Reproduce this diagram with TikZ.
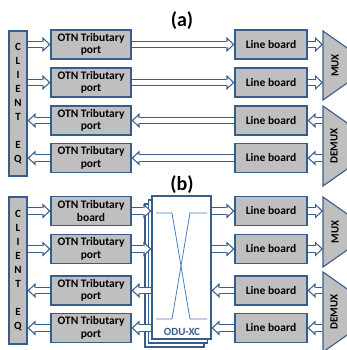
\documentclass[tikz,border=0pt]{standalone}
\usepackage{fontspec}
\setmainfont{Carlito}
\usetikzlibrary{arrows.meta,positioning,calc}
\definecolor{edgeblue}{RGB}{56,93,138}
\definecolor{boxgray}{RGB}{191,191,191}
\definecolor{xcblue}{RGB}{74,126,187}

\begin{document}
\begin{tikzpicture}[x=1pt,y=-1pt,
  cardbox/.style={draw=edgeblue, line width=1.1pt, fill=boxgray, inner sep=0pt, align=center, font=\fontsize{11.5}{12.5}\selectfont\bfseries},
  otnbox/.style={cardbox, minimum width=80pt, minimum height=29pt},
  linebox/.style={cardbox, minimum width=72pt, minimum height=29pt},
  clientbar/.style={cardbox, minimum width=18pt, font=\fontsize{11}{13.9}\selectfont\bfseries},
  dblarrow/.style={draw=edgeblue, line width=7.8pt, shorten <=0.55pt,
    -{Triangle[length=8pt,width=15pt,line width=0pt]},
    postaction={draw=white, line width=5.4pt, shorten <=0.55pt, shorten >=1.76pt,
      -{Triangle[length=5pt,width=9.4pt,line width=0pt]}}},
  muxshape/.style={draw=edgeblue, line width=1.1pt, fill=boxgray},
  muxtext/.style={rotate=90, font=\fontsize{11}{12}\selectfont\bfseries},
  panellabel/.style={font=\fontsize{20}{20}\selectfont\bfseries}]
	\useasboundingbox (0,0) rectangle (347,350);
	\clip (0,0) rectangle (347,350);

	% Panel labels
	\node[panellabel] (labA) at (182,21) {(a)};
	\node[panellabel] (labB) at (182,185) {(b)};

	% ---------- (a) ----------
	% Client equipment
	\node[clientbar, minimum height=145pt] (clientA) at (18,103.5) {C\\L\\I\\E\\N\\T\\ \\E\\Q};

	% Tributary ports and line boards
	\node[otnbox] (otnA1) at (91,44.5) {OTN Tributary\\port};
	\node[otnbox] (otnA2) at (91,82.5) {OTN Tributary\\port};
	\node[otnbox] (otnA3) at (91,120.5) {OTN Tributary\\port};
	\node[otnbox] (otnA4) at (91,158) {OTN Tributary\\port};
	\node[linebox] (lineA1) at (271,44.5) {Line board};
	\node[linebox] (lineA2) at (271,82.5) {Line board};
	\node[linebox] (lineA3) at (271,120.5) {Line board};
	\node[linebox] (lineA4) at (271,158) {Line board};

	% MUX / DEMUX
	\draw[muxshape] (323,31) -- (360,57) -- (360,74) -- (323,100) -- cycle;
	\coordinate (muxA) at (323,65.5);
	\node[muxtext] (muxAname) at (335,65.5) {MUX};
	\draw[muxshape] (323,106) -- (360,132) -- (360,160) -- (323,186) -- cycle;
	\coordinate (demuxA) at (323,146);
	\node[muxtext] (demuxAname) at (334,146) {DEMUX};

	% Connections
	\draw[dblarrow] (clientA.east |- otnA1) -- (otnA1);
	\draw[dblarrow] (clientA.east |- otnA2) -- (otnA2);
	\draw[dblarrow] (otnA1) -- (lineA1);
	\draw[dblarrow] (otnA2) -- (lineA2);
	\draw[dblarrow] (lineA1) -- (lineA1 -| muxA);
	\draw[dblarrow] (lineA2) -- (lineA2 -| muxA);
	\draw[dblarrow] (lineA3 -| demuxA) -- (lineA3);
	\draw[dblarrow] (lineA4 -| demuxA) -- (lineA4);
	\draw[dblarrow] (lineA3) -- (otnA3);
	\draw[dblarrow] (lineA4) -- (otnA4);
	\draw[dblarrow] (otnA3) -- (clientA.east |- otnA3);
	\draw[dblarrow] (otnA4) -- (clientA.east |- otnA4);

	% ---------- (b) ----------
	% Client equipment
	\node[clientbar, minimum height=147pt] (clientB) at (18,270.5) {C\\L\\I\\E\\N\\T\\ \\E\\Q};

	% Tributary boards and line boards
	\node[otnbox] (otnB1) at (91,211) {OTN Tributary\\board};
	\node[otnbox] (otnB2) at (91,249) {OTN Tributary\\port};
	\node[otnbox] (otnB3) at (91,290.5) {OTN Tributary\\port};
	\node[otnbox] (otnB4) at (91,328) {OTN Tributary\\port};
	\node[linebox] (lineB1) at (271,211) {Line board};
	\node[linebox] (lineB2) at (271,249) {Line board};
	\node[linebox] (lineB3) at (271,290.5) {Line board};
	\node[linebox] (lineB4) at (271,328) {Line board};

	% ODU cross-connect (stacked boards)
	\draw[edgeblue, line width=1.1pt, fill=white] (145,204) rectangle (204,347);
	\draw[edgeblue, line width=1.1pt, fill=white] (148.5,200) rectangle (207.5,343);
	\node[draw=edgeblue, line width=1.1pt, fill=white, minimum width=59pt, minimum height=143pt, inner sep=0pt] (odu) at (181.5,267.5) {};
	\draw[xcblue, line width=0.8pt] (156,213) -- (172,213) -- (190,319) -- (207,319);
	\draw[xcblue, line width=0.8pt] (207,213) -- (190,213) -- (172,319) -- (156,319);
	\node[font=\fontsize{11}{12}\selectfont\bfseries, text=edgeblue] (oduname) at (182,332) {ODU-XC};

	% MUX / DEMUX
	\draw[muxshape] (323,197) -- (360,223) -- (360,241) -- (323,267) -- cycle;
	\coordinate (muxB) at (323,232);
	\node[muxtext] (muxBname) at (335,232) {MUX};
	\draw[muxshape] (323,272) -- (360,298) -- (360,326) -- (323,352) -- cycle;
	\coordinate (demuxB) at (323,312);
	\node[muxtext] (demuxBname) at (334,312) {DEMUX};

	% Connections
	\draw[dblarrow] (clientB.east |- otnB1) -- (otnB1);
	\draw[dblarrow] (clientB.east |- otnB2) -- (otnB2);
	\draw[dblarrow] (otnB1) -- (otnB1 -| odu.west);
	\draw[dblarrow] (otnB2) -- (otnB2 -| odu.west);
	\draw[dblarrow] (odu.east |- lineB1) -- (lineB1);
	\draw[dblarrow] (odu.east |- lineB2) -- (lineB2);
	\draw[dblarrow] (lineB1) -- (lineB1 -| muxB);
	\draw[dblarrow] (lineB2) -- (lineB2 -| muxB);
	\draw[dblarrow] (lineB3 -| demuxB) -- (lineB3);
	\draw[dblarrow] (lineB4 -| demuxB) -- (lineB4);
	\draw[dblarrow] (lineB3) -- (lineB3 -| odu.east);
	\draw[dblarrow] (lineB4) -- (lineB4 -| odu.east);
	\draw[dblarrow] (odu.west |- otnB3) -- (otnB3);
	\draw[dblarrow] (odu.west |- otnB4) -- (otnB4);
	\draw[dblarrow] (otnB3) -- (clientB.east |- otnB3);
	\draw[dblarrow] (otnB4) -- (clientB.east |- otnB4);
\end{tikzpicture}
\end{document}
